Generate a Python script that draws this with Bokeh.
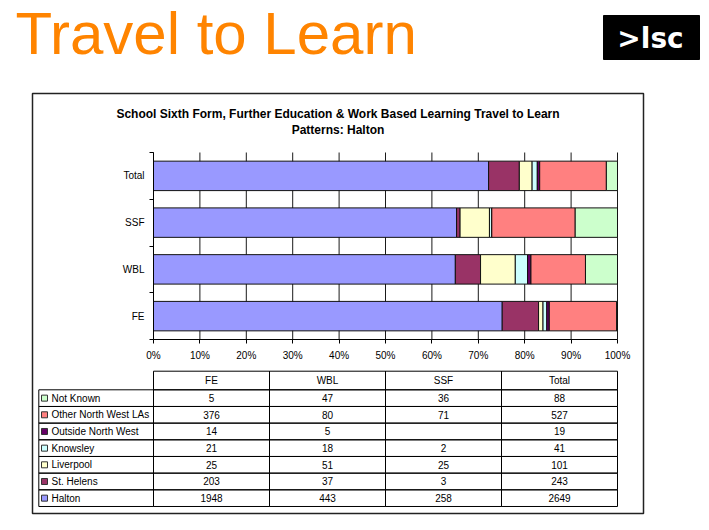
from bokeh.plotting import figure
from bokeh.models import (Range1d, FixedTicker, LinearAxis, ColumnDataSource,
                          PrintfTickFormatter)
from bokeh.core.properties import value
from bokeh.embed import file_html
from bokeh.resources import INLINE

# ---------------- data ----------------
groups = ["FE", "WBL", "SSF", "Total"]            # bottom -> top on the chart
destinations = ["Halton", "St. Helens", "Liverpool", "Knowsley",
                "Outside North West", "Other North West LAs", "Not Known"]
colors = ["#9999FF", "#993366", "#FFFFCC", "#CCFFFF", "#660066", "#FF8080", "#CCFFCC"]
halton = [1948, 443, 258, 2649]
st_helens = [203, 37, 3, 243]
liverpool = [25, 51, 25, 101]
knowsley = [21, 18, 2, 41]
outside_nw = [14, 5, None, 19]
other_nw = [376, 80, 71, 527]
not_known = [5, 47, 36, 88]
x_tick_values = [0, 10, 20, 30, 40, 50, 60, 70, 80, 90, 100]

series = [halton, st_helens, liverpool, knowsley, outside_nw, other_nw, not_known]
chart_title = ["School Sixth Form, Further Education & Work Based Learning Travel to Learn",
               "Patterns: Halton"]
page_title = "Travel to Learn"
logo_text = ">lsc"

FONT = "Liberation Sans"
W, H = 709, 530
PL, PR, PT, PB = 153, 617, 152, 339      # plot area on the page (px)
XK = (PR - PL) / 100.0                    # px per percent
YK = (PB - PT) / float(len(groups))       # px per category


def dx(px):
    return (px - PL) / XK


def dy(py):
    return (PB - py) / YK


p = figure(width=W, height=H, x_range=Range1d(dx(0), dx(W)), y_range=Range1d(dy(H), dy(0)),
           x_axis_location=None, y_axis_location=None, output_backend="svg",
           toolbar_location=None, min_border=0)
p.title.visible = False
p.outline_line_color = None
p.background_fill_color = "white"
p.border_fill_color = "white"
for g in p.grid:
    g.visible = False

# ---------------- grid lines ----------------
p.segment(x0=x_tick_values, x1=x_tick_values, y0=0, y1=len(groups),
          line_color="#1a1a1a", line_width=1)

# ---------------- stacked bars ----------------
totals = [sum((s[i] or 0) for s in series) for i in range(len(groups))]
data = {"y": [i + 0.5 for i in range(len(groups))]}
for name, s in zip(destinations, series):
    data[name] = [100.0 * (v or 0) / t for v, t in zip(s, totals)]
src = ColumnDataSource(data)
p.hbar_stack(destinations, y="y", height=0.63, fill_color=colors, line_color="#111111",
             line_width=1, source=src)

# ---------------- axes ----------------
xaxis = LinearAxis(fixed_location=0, bounds=(0, 100),
                   ticker=FixedTicker(ticks=x_tick_values, minor_ticks=[]),
                   formatter=PrintfTickFormatter(format="%d%%"))
xaxis.major_tick_in = 0
xaxis.major_tick_out = 4
xaxis.major_label_standoff = 6
xaxis.axis_line_color = "black"
xaxis.major_tick_line_color = "black"
xaxis.major_label_text_font = FONT
xaxis.major_label_text_font_size = "10px"
xaxis.major_label_text_color = "black"
p.add_layout(xaxis, "below")

yaxis = LinearAxis(fixed_location=0, bounds=(0, len(groups)),
                   ticker=FixedTicker(ticks=[i + 0.5 for i in range(len(groups))],
                                      minor_ticks=list(range(len(groups) + 1))))
yaxis.major_label_overrides = {i + 0.5: g for i, g in enumerate(groups)}
yaxis.major_tick_in = 0
yaxis.major_tick_out = 0
yaxis.minor_tick_in = 0
yaxis.minor_tick_out = 4
yaxis.minor_tick_line_color = "black"
yaxis.major_label_standoff = 5
yaxis.axis_line_color = "black"
yaxis.major_label_text_font = FONT
yaxis.major_label_text_font_size = "10px"
yaxis.major_label_text_color = "black"
p.add_layout(yaxis, "left")

# ---------------- page title, logo, chart frame ----------------
p.text(x=[dx(15)], y=[dy(33)], text=[page_title], text_font=value(FONT),
       text_font_size=value("60px"), text_color="#FF8400", text_align="left",
       text_baseline="middle")
p.quad(left=[dx(603)], right=[dx(699)], top=[dy(15)], bottom=[dy(59)],
       fill_color="black", line_color="black")
p.text(x=[dx(650)], y=[dy(38)], text=[logo_text],
       text_font=value("DejaVu Sans"), text_font_size=value("28px"),
       text_font_style="bold", text_color="white", text_align="center",
       text_baseline="middle")

p.quad(left=[dx(32)], right=[dx(643)], top=[dy(93)], bottom=[dy(513)],
       fill_color=None, line_color="#222222", line_width=1.5)
p.text(x=[dx(337.5), dx(337.5)], y=[dy(113.5), dy(129)], text=chart_title,
       text_font=value(FONT), text_font_size=value("12px"), text_font_style="bold",
       text_color="black", text_align="center", text_baseline="middle")

# ---------------- data table ----------------
col_edges = [PL + (PR - PL) * c / len(groups) for c in range(len(groups) + 1)]
head_top, row_top, row_h = 370.7, 389.3, 16.67
label_left = 38.3

cell_l, cell_r, cell_t, cell_b = [], [], [], []
txt_x, txt_y, txt = [], [], []
for c in range(len(groups)):
    cell_l.append(dx(col_edges[c])); cell_r.append(dx(col_edges[c + 1]))
    cell_t.append(dy(head_top)); cell_b.append(dy(row_top))
    txt_x.append(dx((col_edges[c] + col_edges[c + 1]) / 2))
    txt_y.append(dy((head_top + row_top) / 2)); txt.append(groups[c])

rows = list(zip(destinations, colors, series))[::-1]
sq_l, sq_r, sq_t, sq_b, sq_c = [], [], [], [], []
lab_x, lab_y, lab = [], [], []
for r, (name, col, vals) in enumerate(rows):
    t = row_top + r * row_h
    b = t + row_h
    cy = (t + b) / 2
    cell_l.append(dx(label_left)); cell_r.append(dx(col_edges[0]))
    cell_t.append(dy(t)); cell_b.append(dy(b))
    sq_l.append(dx(41)); sq_r.append(dx(47)); sq_t.append(dy(cy - 3)); sq_b.append(dy(cy + 3))
    sq_c.append(col)
    lab_x.append(dx(51)); lab_y.append(dy(cy)); lab.append(name)
    for c in range(len(groups)):
        cell_l.append(dx(col_edges[c])); cell_r.append(dx(col_edges[c + 1]))
        cell_t.append(dy(t)); cell_b.append(dy(b))
        v = vals[c]
        txt_x.append(dx((col_edges[c] + col_edges[c + 1]) / 2))
        txt_y.append(dy(cy)); txt.append("" if v is None else str(v))

p.quad(left=cell_l, right=cell_r, top=cell_t, bottom=cell_b, fill_color=None,
       line_color="black", line_width=1)
p.quad(left=sq_l, right=sq_r, top=sq_t, bottom=sq_b, fill_color=sq_c,
       line_color="#333333", line_width=1)
p.text(x=txt_x, y=txt_y, text=txt, text_font=value(FONT), text_font_size=value("10px"),
       text_color="black", text_align="center", text_baseline="middle")
p.text(x=lab_x, y=lab_y, text=lab, text_font=value(FONT), text_font_size=value("10px"),
       text_color="black", text_align="left", text_baseline="middle")

open("out.html", "w").write(file_html(p, INLINE))
